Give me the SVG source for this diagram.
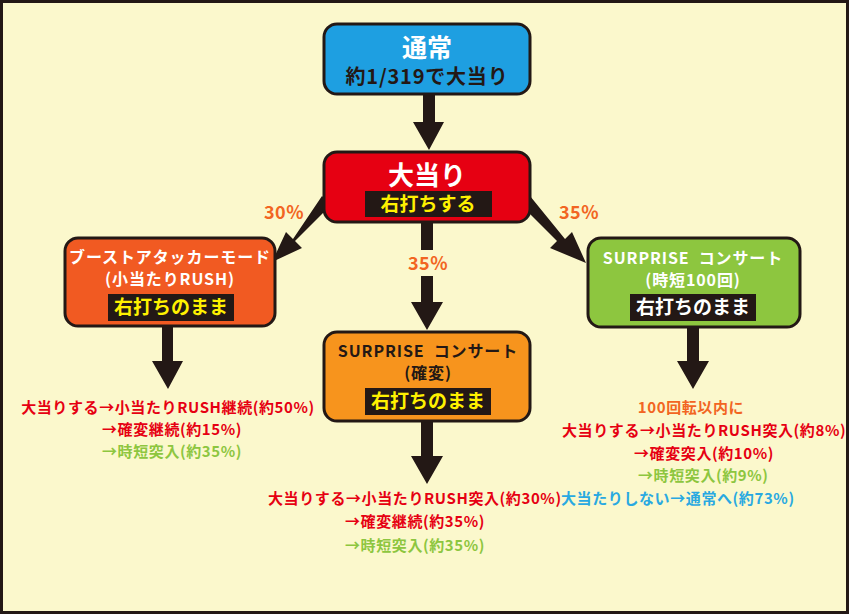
<svg xmlns="http://www.w3.org/2000/svg" width="849" height="614" viewBox="0 0 849 614">
<style>
text{font-family:"Noto Sans CJK JP","Noto Sans",sans-serif;font-weight:bold;text-anchor:middle}
.box{stroke:#231815;stroke-width:3}
.lab{fill:#231815}
.arr{fill:#231815}
.t{font-size:15px;letter-spacing:0.6px}
.red{fill:#E60012}
.grn{fill:#8DC63F}
.blu{fill:#29A9E1}
.org{fill:#F26522}
.pct{fill:#F26522;font-size:18px;letter-spacing:0.5px}
.st{text-anchor:start}
.nt{font-size:16px;letter-spacing:0.9px}
</style>
<rect x="1.5" y="1.5" width="846" height="611" fill="#FBF8CC" stroke="#231815" stroke-width="3"/>
<g id="connectors">
<path class="arr" d="M423 94 H435 V122 H444 L429 150 L413 122 H423 Z"/>
<path class="arr" d="M421 222 H433 V250 H421 Z"/>
<path class="arr" d="M421 276 H433 V302 H443 L427 330 L411 302 H421 Z"/>
<path class="arr" d="M162 325 H173 V361 H183 L168 389 L152 361 H162 Z"/>
<path class="arr" d="M687 327 H699 V361 H709 L693 389 L677 361 H687 Z"/>
<path class="arr" d="M421 420 H433 V456 H443 L427 484 L411 456 H421 Z"/>
<path class="arr" d="M322 196 L331 205 L295 241 L302 248 L272 262 L286 232 L293 239 Z"/>
<path class="arr" d="M530 196 L521 205 L557 241 L550 248 L586 263 L572 232 L565 239 Z"/>
<text class="pct" x="284" y="219">30%</text>
<text class="pct" x="579" y="219">35%</text>
<text class="pct" x="428" y="270">35%</text>
</g>
<g id="node-normal">
<rect class="box" x="324" y="24" width="206" height="70" rx="13" fill="#1E9FE1"/>
<text x="427" y="57" fill="#fff" font-size="25">通常</text>
<text x="427" y="84" fill="#231815" font-size="20" letter-spacing="0.8">約1/319で大当り</text>
</g>
<g id="node-jackpot">
<rect class="box" x="324" y="152" width="206" height="70" rx="13" fill="#E60012"/>
<text x="427" y="185" fill="#fff" font-size="26">大当り</text>
<rect class="lab" x="365" y="191" width="127" height="26"/>
<text x="428" y="211" fill="#FFF100" font-size="19">右打ちする</text>
</g>
<g id="node-boost">
<rect class="box" x="65" y="238" width="210" height="88" rx="13" fill="#F15A22"/>
<text class="nt" x="170" y="263" fill="#fff">ブーストアタッカーモード</text>
<text class="nt" x="170" y="285" fill="#fff">(小当たりRUSH)</text>
<rect class="lab" x="108" y="294" width="126" height="27"/>
<text x="171" y="314" fill="#FFF100" font-size="19">右打ちのまま</text>
</g>
<g id="node-surprise-jitan">
<rect class="box" x="588" y="238" width="212" height="89" rx="13" fill="#8DC63F"/>
<text class="nt" x="693" y="264" fill="#fff">SURPRISE&#160;&#160;コンサート</text>
<text class="nt" x="693" y="286" fill="#fff">(時短100回)</text>
<rect class="lab" x="630" y="294" width="126" height="27"/>
<text x="693" y="314" fill="#fff" font-size="19">右打ちのまま</text>
</g>
<g id="node-surprise-kakuhen">
<rect class="box" x="324" y="332" width="206" height="89" rx="13" fill="#F7941D"/>
<text class="nt" x="428" y="357" fill="#231815">SURPRISE&#160;&#160;コンサート</text>
<text class="nt" x="428" y="379" fill="#231815">(確変)</text>
<rect class="lab" x="365" y="388" width="126" height="27"/>
<text x="428" y="408" fill="#FFF100" font-size="19">右打ちのまま</text>
</g>
<g id="result-boost">
<text class="t red" x="168" y="413">大当りする→小当たりRUSH継続(約50%)</text>
<text class="t red st" x="102" y="435">→確変継続(約15%)</text>
<text class="t grn st" x="102" y="457">→時短突入(約35%)</text>
</g>
<g id="result-kakuhen">
<text class="t red st" x="268" y="504">大当りする→小当たりRUSH突入(約30%)</text>
<text class="t red st" x="345" y="527">→確変継続(約35%)</text>
<text class="t grn st" x="345" y="551">→時短突入(約35%)</text>
</g>
<g id="result-jitan">
<text class="t org" x="691" y="413">100回転以内に</text>
<text class="t red st" x="562" y="436">大当りする→小当たりRUSH突入(約8%)</text>
<text class="t red st" x="634" y="459">→確変突入(約10%)</text>
<text class="t grn st" x="638" y="481">→時短突入(約9%)</text>
<text class="t blu st" x="561" y="504">大当たりしない→通常へ(約73%)</text>
</g>
</svg>
